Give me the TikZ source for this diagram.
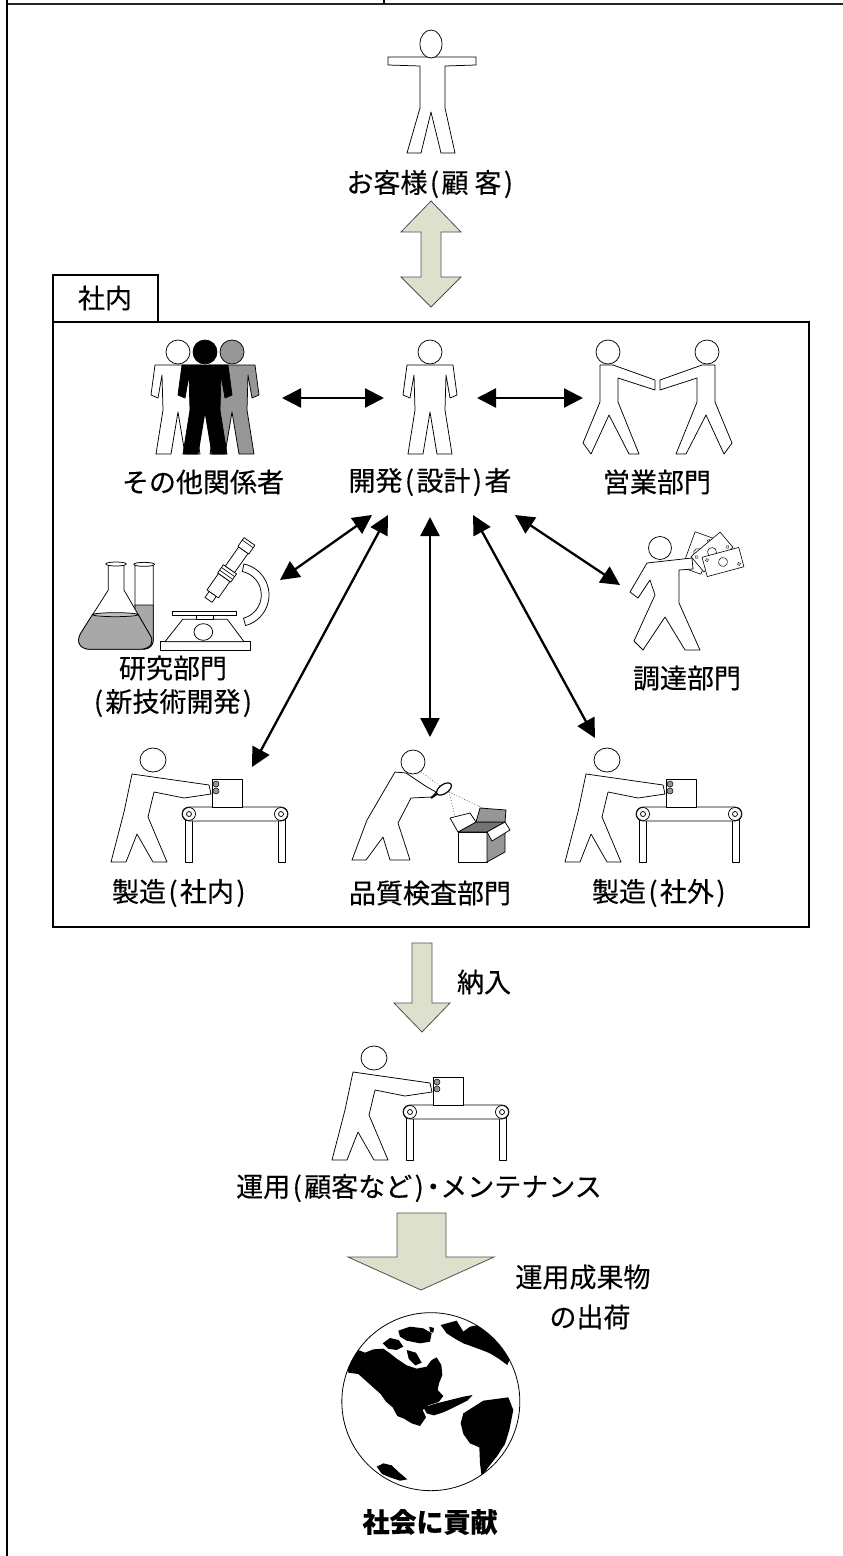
\documentclass[tikz,border=0pt]{standalone}
\usepackage{fontspec}
\setmainfont{Noto Sans CJK JP}[FakeBold=0.3]
\usetikzlibrary{arrows.meta}
\newcommand{\lpar}{\makebox[14pt][c]{(}}
\newcommand{\rpar}{\makebox[14pt][c]{)}}
\newcommand{\midot}{\makebox[14pt][c]{・}}
\definecolor{blockfill}{RGB}{221,224,204}
\definecolor{blockline}{RGB}{80,80,80}
\definecolor{liquid}{RGB}{168,168,168}
\definecolor{midgray}{RGB}{150,150,150}

\tikzset{
  lbl/.style={font=\fontsize{27}{30}\selectfont, inner sep=0pt, text=black},
  fig/.style={draw=black, fill=white, line width=0.75pt, line join=round},
  link/.style={line width=2.3pt, {Triangle[length=19pt,width=19pt]}-{Triangle[length=19pt,width=19pt]}},
  block/.style={draw=blockline, fill=blockfill, line width=0.8pt, line join=miter},
  frame/.style={line width=1.2pt, draw=black},
  % small standing person, head centre at the origin
  standing/.pic={
    \path[pic actions] (-23,13) -- (-27,43) -- (-20,46) -- (-16,23) -- (-15,58) -- (-22,102) -- (-7,102) -- (0,60) -- (7,102) -- (22,102) -- (15,58) -- (16,23) -- (20,46) -- (27,43) -- (23,13) -- cycle;
    \path[pic actions] (0,0) circle[radius=12];
  },
  % operator pushing a box on a conveyor, head centre at the origin
  worker/.pic={
    \path[fig] (32,54) rectangle (39,102);
    \path[fig] (125,54) rectangle (132,102);
    \path[fig] (36,47) -- (128,47) arc[start angle=-90,end angle=90,radius=7] -- (36,61) arc[start angle=90,end angle=270,radius=7] -- cycle;
    \foreach \rx in {36,128} {
      \path[fig] (\rx,54) circle[radius=6.5];
      \path[fig] (\rx,54) circle[radius=2.5];
    }
    \path[fig] (59,19) rectangle (89,47);
    \path[fig] (-21,14) -- (56,25) -- (58,34) -- (31,38) -- (1,32) -- (-5,57) -- (14,102) -- (0,102) -- (-16,74) -- (-27,102) -- (-42,102) -- (-29,52) -- cycle;
    \path[fig] (0,0) ellipse[x radius=13, y radius=12];
    \path[draw=black, fill=midgray, line width=0.5pt] (63,24) circle[radius=3] (63,31) circle[radius=3];
  },
  % bank note
  bill/.pic={
    \path[fig, line width=0.6pt] (-19,-10) rectangle (19,10);
    \path[draw=black, line width=0.5pt] (0,0) circle[radius=4.5];
    \foreach \cx/\cy in {-15/-6,15/6} \path[draw=black, line width=0.4pt] (\cx,\cy) circle[radius=1.6];
  },
}

\begin{document}
\begin{tikzpicture}[x=1pt,y=-1pt]
\useasboundingbox (0,0) rectangle (843,1556);
\fill[white] (0,0) rectangle (843,1556);

% ---- table rules ----
\draw[line width=2pt, black!85] (7,4) -- (843,4);
\draw[frame] (7,0) -- (7,1556);
\draw[frame] (384,0) -- (384,4);

% ---- customer ----
\path[fig] (388,57) -- (476,57) -- (476,65) -- (445,66) -- (445,108) -- (455,153) -- (441,153) -- (431,112) -- (421,153) -- (407,153) -- (420,108) -- (420,66) -- (388,65) -- cycle;
\path[fig] (431,44) ellipse[x radius=11, y radius=14];
\node[lbl] (custTxt) at (431,184) {お客様\lpar 顧\hspace{6pt}客\rpar};

% double block arrow customer <-> company
\path[block] (431,201) -- (461,232) -- (441,232) -- (441,277) -- (461,277) -- (431,307) -- (401,277) -- (421,277) -- (421,232) -- (401,232) -- cycle;

% ---- company frame ----
\draw[frame] (53,322) rectangle (809,927);
\draw[frame] (53,322) -- (53,275) -- (158,275) -- (158,322);
\node[lbl] (tab) at (105,298) {社内};

% other stakeholders (three people)
\pic[fig] at (178,352) {standing};
\pic[draw=black, fill=midgray, line width=0.75pt, line join=round] at (232,352) {standing};
\pic[draw=black, fill=black, line width=0.75pt, line join=round] at (205,352) {standing};
\node[lbl] (othTxt) at (203,482) {その他関係者};

% designer
\pic[fig] at (430,352) {standing};
\node[lbl] (desTxt) at (430,482) {開発\lpar 設計\rpar 者};

% sales (handshake)
\begin{scope}[shift={(608,352)}]
  \path[fig] (-8,13) -- (5,13) -- (47,28) -- (47,38) -- (10,26) -- (10,50) -- (31,102) -- (21,102) -- (1,63) -- (-17,102) -- (-25,91) -- (-8,50) -- cycle;
  \path[fig] (0,0) circle[radius=12];
\end{scope}
\begin{scope}[shift={(707,352)}]
  \path[fig] (8,13) -- (-5,13) -- (-47,28) -- (-47,38) -- (-10,26) -- (-10,50) -- (-31,102) -- (-21,102) -- (-1,63) -- (17,102) -- (25,91) -- (8,50) -- cycle;
  \path[fig] (0,0) circle[radius=12];
\end{scope}
\node[lbl] (salTxt) at (657,482) {営業部門};

% research: flask, test tube and microscope
\begin{scope}[shift={(40,520)}, scale=1/3]
  % test tube
  \path[fig] (285,135) -- (285,360) arc[start angle=180,end angle=0,radius=27.5] -- (340,135);
  \path[fill=liquid, draw=black, line width=0.75pt] (285,255) -- (285,360) arc[start angle=180,end angle=0,radius=27.5] -- (340,255) -- cycle;
  \path[fig] (312.5,133) ellipse[x radius=31, y radius=6];
  % flask
  \path[fig] (205,135) -- (205,210) -- (122,340) .. controls (108,365) and (118,387) .. (150,388) -- (300,388) .. controls (336,386) and (342,364) .. (330,345) -- (252,210) -- (252,135);
  \path[fill=liquid, draw=black, line width=0.75pt] (158,283) -- (122,340) .. controls (108,365) and (118,387) .. (150,388) -- (300,388) .. controls (336,386) and (342,364) .. (330,345) -- (294,283) -- cycle;
  \path[draw=black, fill=liquid!70!white, line width=0.75pt] (226,284) ellipse[x radius=68, y radius=6];
  \path[fig] (228,132) ellipse[x radius=31, y radius=6];
  % microscope arm
  \path[fig] ([shift={(592,225)}]-78:95) arc[start angle=-78,end angle=75,radius=95] -- ([shift={(592,225)}]75:72) arc[start angle=75,end angle=-78,radius=72] -- cycle;
  % base, body and stage
  \path[fig] (360,365) rectangle (630,390);
  \path[fig] (375,365) -- (428,298) -- (562,298) -- (612,365) -- cycle;
  \path[fig] (470,284) rectangle (520,298);
  \path[fig] (398,274) rectangle (590,286);
  \path[fig] (490,336) ellipse[x radius=28, y radius=25];
  % tube
  \begin{scope}[shift={(567,152)}, rotate=-35]
    \path[fig] (-13,85) rectangle (13,107);
    \path[fig] (-21,25) rectangle (21,85);
    \path[fig] (-24,-5) rectangle (24,25);
    \draw[line width=0.6pt] (-24,5) -- (24,5) (-24,15) -- (24,15);
    \path[fig] (-17,-75) rectangle (17,-5);
    \path[fig] (-20,-107) rectangle (20,-75);
    \draw[line width=0.6pt] (-20,-98) -- (20,-98);
  \end{scope}
\end{scope}
\node[lbl] (resTxt) at (173,668) {研究部門};
\node[lbl] (resTxtB) at (173,703) {\lpar 新技術開発\rpar};

% procurement (person with bank notes)
\begin{scope}[shift={(660,548)}]
  \pic[rotate=70] at (38,5) {bill};
  \pic[rotate=40] at (52,4) {bill};
  \pic[rotate=15] at (63,14) {bill};
  \path[fig] (-13,15) -- (32,10) -- (33,21) -- (19,22) -- (19,55) -- (40,102) -- (25,102) -- (5,69) -- (-17,102) -- (-26,93) -- (-5,47) -- (-10,32) -- (-22,50) -- (-30,44) -- cycle;
  \path[fig] (0,0) circle[radius=11.5];
\end{scope}
\node[lbl] (procTxt) at (687,678) {調達部門};

% manufacturing, in-house and outsourced
\pic at (153,760) {worker};
\node[lbl] (mfgInTxt) at (180,893) {製造\lpar 社内\rpar};
\pic at (607,760) {worker};
\node[lbl] (mfgOutTxt) at (660,893) {製造\lpar 社外\rpar};

% quality inspection
\draw[black!60, dotted, line width=0.8pt] (421,772) -- (440,786) (449,792) -- (457,824) (449,792) -- (504,818);
\path[fig] (458,832) rectangle (487,862);
\path[draw=black, fill=midgray, line width=0.75pt, line join=round] (487,832) -- (505,822) -- (505,852) -- (487,862) -- cycle;
\path[draw=black, fill=black!55, line width=0.75pt, line join=round] (458,832) -- (476,822) -- (505,822) -- (487,832) -- cycle;
\path[fig] (458,832) -- (450,818) -- (470,813) -- (476,822) -- cycle;
\path[draw=black, fill=midgray, line width=0.75pt, line join=round] (476,822) -- (480,808) -- (506,810) -- (505,822) -- cycle;
\path[fig] (487,832) -- (505,822) -- (510,830) -- (492,841) -- cycle;
\path[fig] (395,772) -- (367,820) -- (352,860) -- (366,860) -- (383,837) -- (390,860) -- (410,860) -- (398,823) -- (411,798) -- (432,797) -- (436,792) -- (427,787) -- (406,773) -- cycle;
\path[fig] (413,762) circle[radius=12];
\draw[line width=2pt] (438,793) -- (431,798);
\path[fig, line width=1.2pt] (444,789) ellipse[x radius=8.5, y radius=4.5, rotate=35];
\node[lbl] (qcTxt) at (430,893) {品質検査部門};

% ---- links between the designer and the others ----
\coordinate (othR) at (282,398);   \coordinate (desL) at (384,398);
\coordinate (desR) at (477,398);   \coordinate (salL) at (583,398);
\coordinate (desA) at (372,515);   \coordinate (resNE) at (280,580);
\coordinate (desB) at (388,515);   \coordinate (mfgInNE) at (252,767);
\coordinate (desC) at (430,517);   \coordinate (qcN) at (430,737);
\coordinate (desD) at (473,515);   \coordinate (mfgOutN) at (595,738);
\coordinate (desE) at (515,515);   \coordinate (procNW) at (620,585);
\draw[link] (othR) -- (desL);
\draw[link] (desR) -- (salL);
\draw[link] (desA) -- (resNE);
\draw[link] (desB) -- (mfgInNE);
\draw[link] (desC) -- (qcN);
\draw[link] (desD) -- (mfgOutN);
\draw[link] (desE) -- (procNW);

% ---- delivery ----
\path[block] (412,943) -- (432,943) -- (432,1003) -- (450,1003) -- (422,1032) -- (394,1003) -- (412,1003) -- cycle;
\node[lbl] (delivTxt) at (484,982) {納入};

\pic at (374,1058) {worker};
\node[lbl] (opTxt) at (419,1188) {運用\lpar 顧客など\rpar\midot メンテナンス};

\path[block] (397,1213) -- (446,1213) -- (446,1257) -- (494,1257) -- (421,1290) -- (348,1257) -- (397,1257) -- cycle;
\node[lbl] (shipTxtA) at (583,1277) {運用成果物};
\node[lbl] (shipTxtB) at (590,1317) {の出荷};

% ---- globe ----
\begin{scope}[shift={(250,1300)}, scale=1/3]
  \path[fill=white] (542.5,305) circle[radius=267];
  \begin{scope}
    \clip (542.5,305) circle[radius=267];
    % North America
    \fill[black] (285,165) -- (320,148) -- (345,158) -- (370,148) -- (400,146) -- (420,160) -- (440,176) -- (470,196) -- (500,206) -- (530,200) -- (545,180) -- (560,172) -- (574,195) -- (577,225) -- (567,250) -- (563,270) -- (580,288) -- (566,306) -- (535,316) -- (518,330) -- (528,352) -- (510,378) -- (485,370) -- (462,356) -- (442,348) -- (428,322) -- (408,305) -- (392,282) -- (365,258) -- (345,240) -- (325,222) -- (295,218) -- cycle;
    % arctic islands and Greenland
    \fill[black] (398,130) -- (420,114) -- (446,120) -- (460,140) -- (440,150) -- (414,146) -- cycle;
    \fill[black] (445,92) -- (480,80) -- (520,85) -- (545,100) -- (540,125) -- (510,130) -- (470,122) -- (450,110) -- cycle;
    \fill[black] (470,150) -- (498,158) -- (515,188) -- (496,196) -- (476,176) -- cycle;
    \fill[black] (538,80) -- (552,84) -- (550,98) -- (540,96) -- cycle;
    % Caribbean
    \fill[black] (520,322) -- (560,310) -- (600,300) -- (640,290) -- (668,285) -- (652,302) -- (612,322) -- (582,336) -- (552,346) -- (530,340) -- cycle;
    % South America
    \fill[black] (640,340) -- (700,302) -- (775,292) -- (790,330) -- (778,390) -- (765,432) -- (740,470) -- (716,500) -- (695,530) -- (690,490) -- (688,442) -- (660,430) -- (640,402) -- (632,370) -- cycle;
    % Europe and Africa at the rim
    \fill[black] (572,75) -- (620,62) -- (640,95) -- (660,80) -- (700,72) -- (738,95) -- (762,130) -- (782,172) -- (772,195) -- (746,176) -- (720,160) -- (695,150) -- (668,140) -- (640,130) -- (615,116) -- (590,100) -- cycle;
    % Antarctic coast
    \fill[black] (380,500) -- (400,490) -- (425,496) -- (446,516) -- (472,538) -- (450,542) -- (420,532) -- (396,522) -- cycle;
  \end{scope}
  \draw[line width=0.8pt] (542.5,305) circle[radius=267];
\end{scope}
\node[lbl, font=\fontsize{27}{30}\selectfont\bfseries] (socTxt) at (430,1522) {社会に貢献};

\end{tikzpicture}
\end{document}
